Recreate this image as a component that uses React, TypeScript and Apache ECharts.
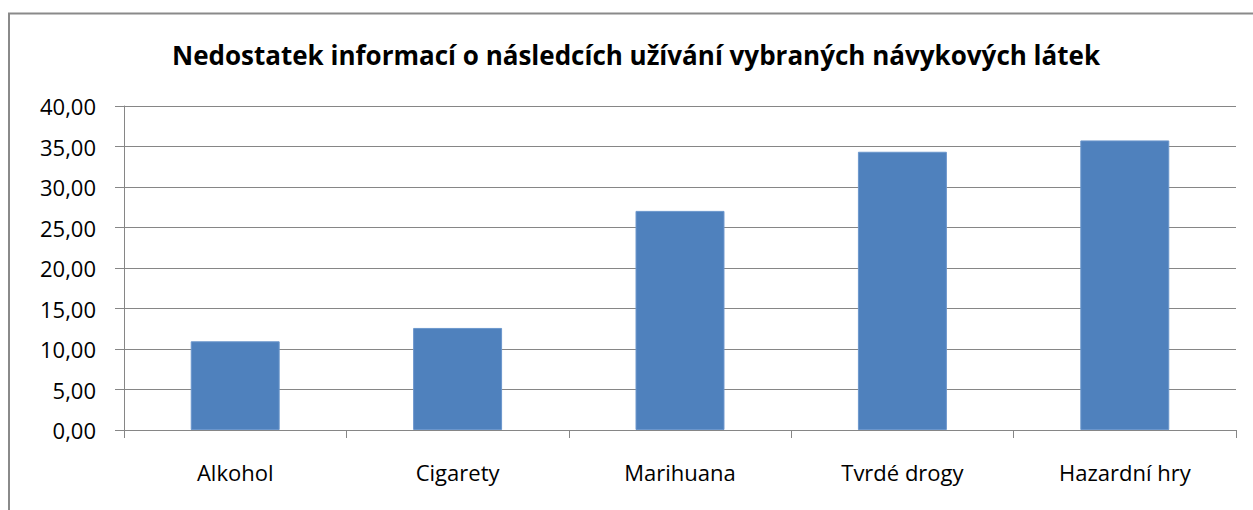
import React, { useEffect, useRef } from "react";
import * as echarts from "echarts";

const titleText = "Nedostatek informací o následcích užívání vybraných návykových látek";
const categories = ["Alkohol", "Cigarety", "Marihuana", "Tvrdé drogy", "Hazardní hry"];
const values = [10.95, 12.6, 27.05, 34.35, 35.75];
const yMin = 0;
const yMax = 40;
const yInterval = 5;

export default function App() {
  const ref = useRef<HTMLDivElement>(null);
  useEffect(() => {
    if (!ref.current) return;
    const chart = echarts.init(ref.current, null, { renderer: "svg" });
    const font = "'Open Sans', 'Noto Sans', sans-serif";
    chart.setOption({
      animation: false,
      backgroundColor: "#ffffff",
      title: {
        text: titleText,
        left: 167,
        top: 37,
        textStyle: { fontFamily: font, fontSize: 26, fontWeight: "bold", color: "#000" },
      },
      graphic: [
        {
          type: "rect",
          shape: { x: 9, y: 13.5, width: 1260, height: 520 },
          style: { fill: "none", stroke: "#8a8a8a", lineWidth: 2 },
          silent: true,
        },
      ],
      grid: { left: 124, right: 17, top: 106, bottom: 80 },
      xAxis: {
        type: "category",
        data: categories,
        axisLine: { show: true, lineStyle: { color: "#868686", width: 1 } },
        axisTick: { show: true, alignWithLabel: false, length: 8, lineStyle: { color: "#868686" } },
        axisLabel: { margin: 31, fontFamily: font, fontSize: 22, color: "#000" },
      },
      yAxis: {
        type: "value",
        min: yMin,
        max: yMax,
        interval: yInterval,
        axisLine: { show: true, lineStyle: { color: "#868686", width: 1 } },
        axisTick: { show: true, inside: false, length: 9, lineStyle: { color: "#868686" } },
        splitLine: { show: true, lineStyle: { color: "#868686", width: 1 } },
        axisLabel: {
          margin: 28,
          fontFamily: font,
          fontSize: 22,
          color: "#000",
          formatter: (v: number) => v.toFixed(2).replace(".", ","),
        },
      },
      series: [
        {
          type: "bar",
          data: values,
          barCategoryGap: "60%",
          itemStyle: { color: "#4f81bd", borderColor: "#6b96cc", borderWidth: 1 },
        },
      ],
    });
    return () => chart.dispose();
  }, []);
  return (
    <div
      ref={ref}
      style={{ position: "absolute", left: 0, top: 0, width: 1253, height: 510 }}
    />
  );
}
